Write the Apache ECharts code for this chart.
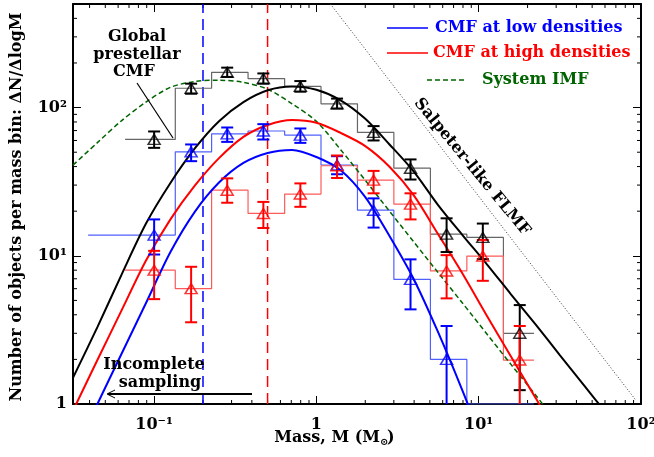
<!DOCTYPE html>
<html>
<head>
<meta charset="utf-8">
<script src="https://cdn.jsdelivr.net/npm/echarts@6.0.0/dist/echarts.min.js"></script>
<style>
  html, body { margin: 0; padding: 0; background: #fff; }
  #chart { width: 654px; height: 457px; }
</style>
</head>
<body>
<div id="chart"></div>
<script>
var FONT = 'DejaVu Serif';

// axis ranges and tick labels
var xMin = 0.031623, xMax = 100, yMin = 1, yMax = 500;
var xTickValues = [0.1, 1, 10, 100];
var xTickText = ['10\u207B\u00B9', '1', '10\u00B9', '10\u00B2'];
var yTickValues = [1, 10, 100];
var yTickText = ['1', '10\u00B9', '10\u00B2'];
var xMinorTicks = [0.04, 0.05, 0.06, 0.07, 0.08, 0.09, 0.2, 0.3, 0.4, 0.5, 0.6, 0.7, 0.8, 0.9,
                   2, 3, 4, 5, 6, 7, 8, 9, 20, 30, 40, 50, 60, 70, 80, 90];
var yMinorTicks = [2, 3, 4, 5, 6, 7, 8, 9, 20, 30, 40, 50, 60, 70, 80, 90, 200, 300, 400];

// mass bins (Msun): point positions and histogram edges
var binMass = [0.1, 0.169, 0.282, 0.471, 0.796, 1.34, 2.25, 3.80, 6.34, 10.6, 17.9];
var binEdges = [0.135, 0.226, 0.379, 0.637, 1.067, 1.79, 3.00, 5.04, 8.45, 14.2, 21.9];

// global prestellar CMF (black)
var globalStart = 0.0662;
var globalN    = [61, 135, 173, 157, 139, 106, 68, 39, 14, 13.3, 3.0];
var globalLow  = [53.5, 124, 161, 145, 128, 98.6, 60, 32.7, 10.6, 9.5, 1.24];
var globalHigh = [69, 145, 186, 170, 151, 115, 75, 44.7, 17.9, 16.5, 4.65];

// CMF at low densities (blue)
var lowStart = 0.0392;
var lowN    = [13.8, 50.3, 66.5, 69.5, 65.2, 41, 20.3, 6.93, 2.0, null, null];
var lowLow  = [10.2, 43.5, 58.7, 60.9, 57.8, 35.5, 15.5, 4.35, 0.5, null, null];
var lowHigh = [17.6, 56.4, 73.4, 77.3, 72.3, 47, 24.4, 9.46, 3.36, null, null];

// CMF at high densities (red)
var highStart = 0.0662;
var highN    = [8.0, 6.0, 27.7, 19.3, 26.1, 40.5, 32.4, 22.3, 7.9, 9.95, 1.98];
var highLow  = [5.1, 3.56, 22.8, 15.4, 21.4, 33.5, 26.4, 17.6, 5.16, 6.78, 0.5];
var highHigh = [10.8, 8.43, 33.3, 23.1, 30.8, 47.5, 37.4, 26.4, 10.1, 12.8, 3.36];

// fitted curves at 0.15 dex steps in mass
var fitMass = [0.0316, 0.0447, 0.0631, 0.0891, 0.126, 0.178, 0.251, 0.355, 0.501, 0.708,
               1.0, 1.41, 2.0, 2.82, 3.98, 5.62, 7.94, 11.2, 15.8, 22.4, 31.6, 44.7, 63.1];
var globalFitN = [1.5, 3.3, 7.5, 16.5, 31, 53, 81, 109, 131, 139,
                  132, 112, 84, 56.4, 37, 22, 13.8, 8.8, 5.5, 3.44, 2.14, 1.33, 0.83];
var highFitN = [0.9, 1.98, 4.3, 9.3, 17.6, 29.7, 45.6, 63.5, 76.3, 82.5,
                79, 67.5, 55, 39.9, 25.6, 14, 7.6, 3.96, 2.09, 1.1, 0.58];
var lowFitN = [0.44, 1.0, 2.19, 4.8, 10.6, 19.8, 31.2, 42.3, 49.4, 51.8,
               46.4, 37.8, 24.9, 13.6, 6.95, 3.05, 1.23, 0.47];
var imfN = [40.9, 58, 81.7, 109, 137, 150, 153, 148, 133, 106,
            80.7, 52, 32.3, 20, 12.4, 7.7, 4.8, 2.98, 1.85, 1.15, 0.71];
var salpeterM = [1.22, 93];
var salpeterN = [500, 1.06];

// completeness limits
var lowLimit = 0.2, highLimit = 0.5;

var BLUE = '#0000ff', RED = '#ff0000', GREEN = '#006400';

function pairs(xs, ys) {
  return ys.map(function (y, i) { return [xs[i], y]; });
}

function histData(start, vals) {
  var edges = [start].concat(binEdges);
  var pts = [];
  vals.forEach(function (v, i) {
    var y = v == null ? yMin : v;
    pts.push([edges[i], y], [edges[i + 1], y]);
  });
  return pts;
}

function histSeries(start, vals, color) {
  return {
    type: 'line', data: histData(start, vals), showSymbol: false, z: 2,
    lineStyle: { color: color, width: 1.2 }
  };
}

function curveSeries(ys, color, dash) {
  return {
    type: 'line', data: pairs(fitMass, ys), showSymbol: false, smooth: 0.3, z: 3,
    lineStyle: { color: color, width: dash ? 1.5 : 2, type: dash || 'solid' }
  };
}

function pointSeries(vals, color) {
  var data = [];
  binMass.forEach(function (m, i) { if (vals[i] != null) data.push([m, vals[i]]); });
  return {
    type: 'scatter', data: data, symbol: 'triangle', symbolSize: [12, 10], z: 6,
    itemStyle: { color: 'transparent', borderColor: color, borderWidth: 1.5 }
  };
}

function errorSeries(low, high, color) {
  var data = [];
  binMass.forEach(function (m, i) { if (low[i] != null) data.push([m, low[i], high[i]]); });
  return {
    type: 'custom', data: data, clip: true, z: 5, silent: true,
    encode: { x: 0, y: [1, 2] },
    renderItem: function (params, api) {
      var lo = api.coord([api.value(0), api.value(1)]);
      var hi = api.coord([api.value(0), api.value(2)]);
      var w = 6;
      var st = { stroke: color, lineWidth: 2 };
      return {
        type: 'group', children: [
          { type: 'line', shape: { x1: lo[0], y1: lo[1], x2: hi[0], y2: hi[1] }, style: st },
          { type: 'line', shape: { x1: hi[0] - w, y1: hi[1], x2: hi[0] + w, y2: hi[1] }, style: st },
          { type: 'line', shape: { x1: lo[0] - w, y1: lo[1], x2: lo[0] + w, y2: lo[1] }, style: st }
        ]
      };
    }
  };
}

function minorTickSeries() {
  var data = xMinorTicks.map(function (v) { return [v, yMin, 0]; })
    .concat(yMinorTicks.map(function (v) { return [xMin, v, 1]; }));
  return {
    type: 'custom', data: data, silent: true, z: 1,
    encode: { x: 0, y: 1 },
    renderItem: function (params, api) {
      var cs = params.coordSys;
      var p = api.coord([api.value(0), api.value(1)]);
      var st = { stroke: '#000', lineWidth: 1 };
      var L = 4;
      if (api.value(2) === 0) {
        return { type: 'group', children: [
          { type: 'line', shape: { x1: p[0], y1: cs.y + cs.height, x2: p[0], y2: cs.y + cs.height - L }, style: st },
          { type: 'line', shape: { x1: p[0], y1: cs.y, x2: p[0], y2: cs.y + L }, style: st }
        ] };
      }
      return { type: 'group', children: [
        { type: 'line', shape: { x1: cs.x, y1: p[1], x2: cs.x + L, y2: p[1] }, style: st },
        { type: 'line', shape: { x1: cs.x + cs.width, y1: p[1], x2: cs.x + cs.width - L, y2: p[1] }, style: st }
      ] };
    }
  };
}

function vLine(x, color) {
  return {
    type: 'line', data: [[x, yMin], [x, yMax]], showSymbol: false, z: 2,
    lineStyle: { color: color, width: 1.5, type: [11, 6] }
  };
}

function logAxis(kind, pos, vals, texts) {
  var isX = kind === 'x';
  return {
    type: 'log', logBase: 10, position: pos,
    min: isX ? xMin : yMin, max: isX ? xMax : yMax,
    axisLine: { show: true, lineStyle: { color: '#000', width: 2 } },
    axisTick: { show: true, inside: true, length: 8, lineStyle: { color: '#000', width: 1 } },
    splitLine: { show: false },
    minorTick: { show: false },
    axisLabel: {
      show: !!vals, color: '#000', fontFamily: FONT, fontWeight: 'bold', fontSize: 16,
      margin: isX ? 13 : 6,
      formatter: function (v) {
        if (!vals) return '';
        for (var i = 0; i < vals.length; i++) {
          if (Math.abs(v / vals[i] - 1) < 1e-6) return texts[i];
        }
        return '';
      }
    }
  };
}

var txt = { fontFamily: FONT, fontWeight: 'bold', fontSize: 16, fill: '#000' };
function label(text, x, y, extra, rotation) {
  var style = Object.assign({ text: text, align: 'center', verticalAlign: 'middle' }, txt, extra || {});
  return { type: 'text', x: x, y: y, rotation: rotation || 0, style: style, z: 10 };
}
function seg(x1, y1, x2, y2, stroke, width, dash) {
  return { type: 'line', shape: { x1: x1, y1: y1, x2: x2, y2: y2 }, z: 10,
    style: { stroke: stroke, lineWidth: width, lineDash: dash || null } };
}

var chart = echarts.init(document.getElementById('chart'));
chart.setOption({
  animation: false,
  backgroundColor: '#fff',
  grid: { left: 73, right: 13, top: 4, bottom: 53, outerBoundsMode: 'none' },
  xAxis: [
    logAxis('x', 'bottom', xTickValues, xTickText),
    logAxis('x', 'top', null, null)
  ],
  yAxis: [
    logAxis('y', 'left', yTickValues, yTickText),
    logAxis('y', 'right', null, null)
  ],
  series: [
    minorTickSeries(),
    vLine(lowLimit, BLUE),
    vLine(highLimit, RED),
    {
      type: 'line', data: pairs(salpeterM, salpeterN), showSymbol: false, z: 2,
      lineStyle: { color: '#333', width: 1, type: [1, 2] }
    },
    histSeries(globalStart, globalN, '#666666'),
    histSeries(lowStart, lowN, '#5060ff'),
    histSeries(highStart, highN, '#ff5a5a'),
    curveSeries(imfN, GREEN, [5, 3]),
    curveSeries(globalFitN, '#000'),
    curveSeries(highFitN, RED),
    curveSeries(lowFitN, BLUE),
    errorSeries(globalLow, globalHigh, '#000'),
    errorSeries(lowLow, lowHigh, BLUE),
    errorSeries(highLow, highHigh, RED),
    pointSeries(globalN, '#000'),
    pointSeries(lowN, BLUE),
    pointSeries(highN, RED)
  ],
  graphic: [
    label('Number of objects per mass bin: \u0394N/\u0394logM', 17, 207, {}, Math.PI / 2),
    label('Mass, M (M', 380, 438, { align: 'right' }),
    label('\u2299', 380, 442, { align: 'left', fontSize: 10 }),
    label(')', 387, 438, { align: 'left' }),
    // legend
    seg(387, 28, 428, 28, BLUE, 1.5),
    label('CMF at low densities', 435, 28, { align: 'left', fill: BLUE }),
    seg(387, 53, 428, 53, RED, 1.5),
    label('CMF at high densities', 433, 53, { align: 'left', fill: RED }),
    seg(427, 80, 467, 80, GREEN, 1.5, [5, 3]),
    label('System IMF', 482, 80, { align: 'left', fill: GREEN }),
    // global CMF annotation
    label('Global', 137, 37),
    label('prestellar', 137, 55),
    label('CMF', 134, 72),
    seg(137, 83, 173, 138, '#000', 1.2),
    // incomplete sampling arrow
    label('Incomplete', 154, 365),
    label('sampling', 160, 383),
    seg(252, 394, 108, 394, '#000', 2),
    { type: 'polyline', z: 10, shape: { points: [[115, 390], [107, 394], [115, 398]] },
      style: { stroke: '#000', lineWidth: 1, fill: null } },
    // Salpeter label
    label('Salpeter-like FLMF', 472, 167, {}, -50.5 * Math.PI / 180)
  ]
});
</script>
</body>
</html>
